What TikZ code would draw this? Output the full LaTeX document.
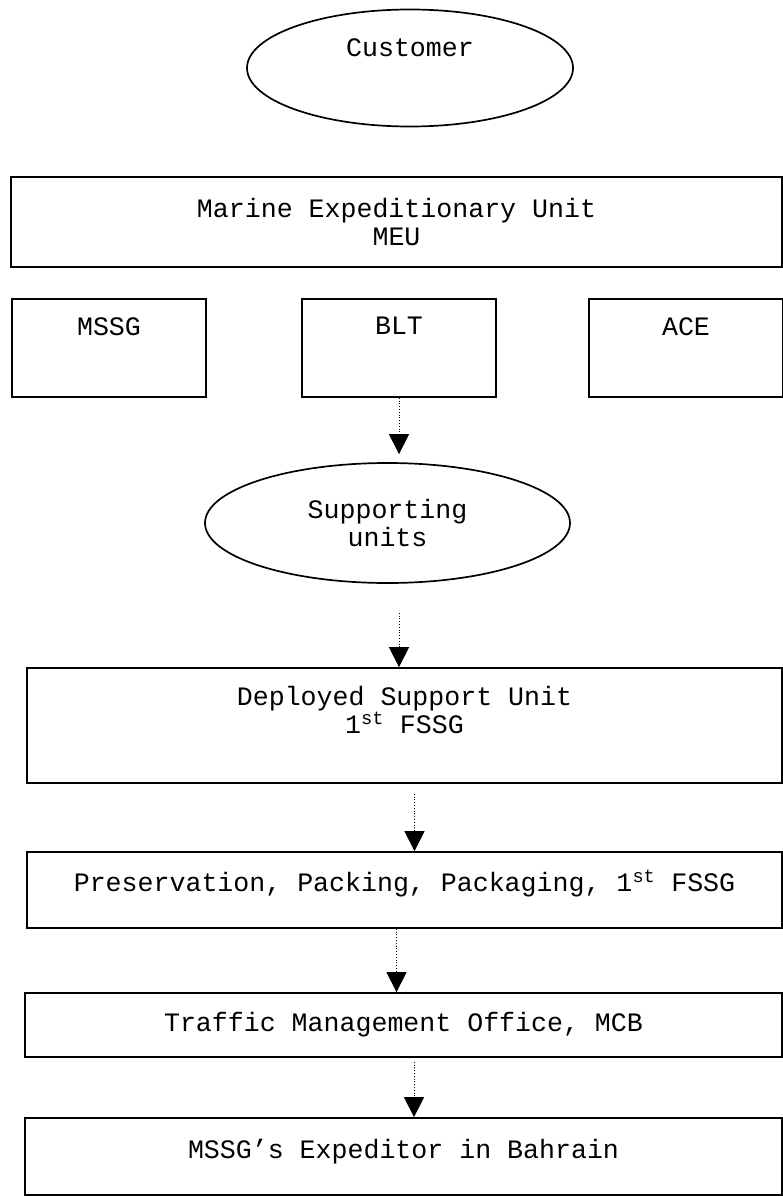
\documentclass[tikz,border=0pt]{standalone}
\usepackage{fontspec}
\setmainfont{Liberation Mono}
\usetikzlibrary{shapes.geometric,arrows.meta}
\begin{document}
\begin{tikzpicture}[x=1pt,y=-1pt,font=\fontsize{26.6}{28}\selectfont,
	unit/.style={draw,line width=1.7pt,inner sep=0pt,align=center},
	oval/.style={unit,ellipse},
	inlab/.style={anchor=north,inner sep=0pt,yshift=-19pt,align=center},
	flow/.style={dotted,line width=0.8pt,-{Triangle[width=20pt,length=20pt]}}]
	\useasboundingbox (0,0) rectangle (783,1196);
	\node[oval,minimum width=326pt,minimum height=117pt,label={[inlab,yshift=-11pt]north:Customer}] (cust) at (410,68) {};
	\node[unit,minimum width=771pt,minimum height=90pt] (meu) at (396.5,222) {Marine Expeditionary Unit\\MEU};
	\node[unit,minimum width=194pt,minimum height=98pt,label={[inlab]north:MSSG}] (mssg) at (109,348) {};
	\node[unit,minimum width=194pt,minimum height=98pt,label={[inlab]north:BLT}] (blt) at (399,348) {};
	\node[unit,minimum width=194pt,minimum height=98pt,label={[inlab]north:ACE}] (ace) at (686,348) {};
	\node[oval,minimum width=365pt,minimum height=120pt] (sup) at (387.5,523) {Supporting\\units};
	\node[unit,minimum width=755pt,minimum height=115pt,label={[inlab]north:Deployed Support Unit\\1\textsuperscript{st} FSSG}] (dsu) at (404.5,725.5) {};
	\node[unit,minimum width=755pt,minimum height=76pt,label={[inlab]north:{Preservation, Packing, Packaging, 1\textsuperscript{st} FSSG}}] (ppp) at (404.5,890) {};
	\node[unit,minimum width=757pt,minimum height=64pt] (tmo) at (403.5,1025) {Traffic Management Office, MCB};
	\node[unit,minimum width=757pt,minimum height=77pt,label={[inlab,yshift=-3pt]north:MSSG's Expeditor in Bahrain}] (exp) at (403.5,1156.5) {};
	\draw[flow,shorten >=8pt] (blt.south) -- (blt.south |- sup.north);
	\draw[flow,shorten <=29pt] (blt.south |- sup.south) -- (blt.south |- dsu.north);
	\draw[flow,shorten <=10pt] ([xshift=10pt]dsu.south) -- ([xshift=10pt]dsu.south |- ppp.north);
	\draw[flow] ([xshift=-8pt]ppp.south) -- ([xshift=-8pt]ppp.south |- tmo.north);
	\draw[flow,shorten <=4pt] ([xshift=10.5pt]tmo.south) -- ([xshift=10.5pt]tmo.south |- exp.north);
\end{tikzpicture}
\end{document}
